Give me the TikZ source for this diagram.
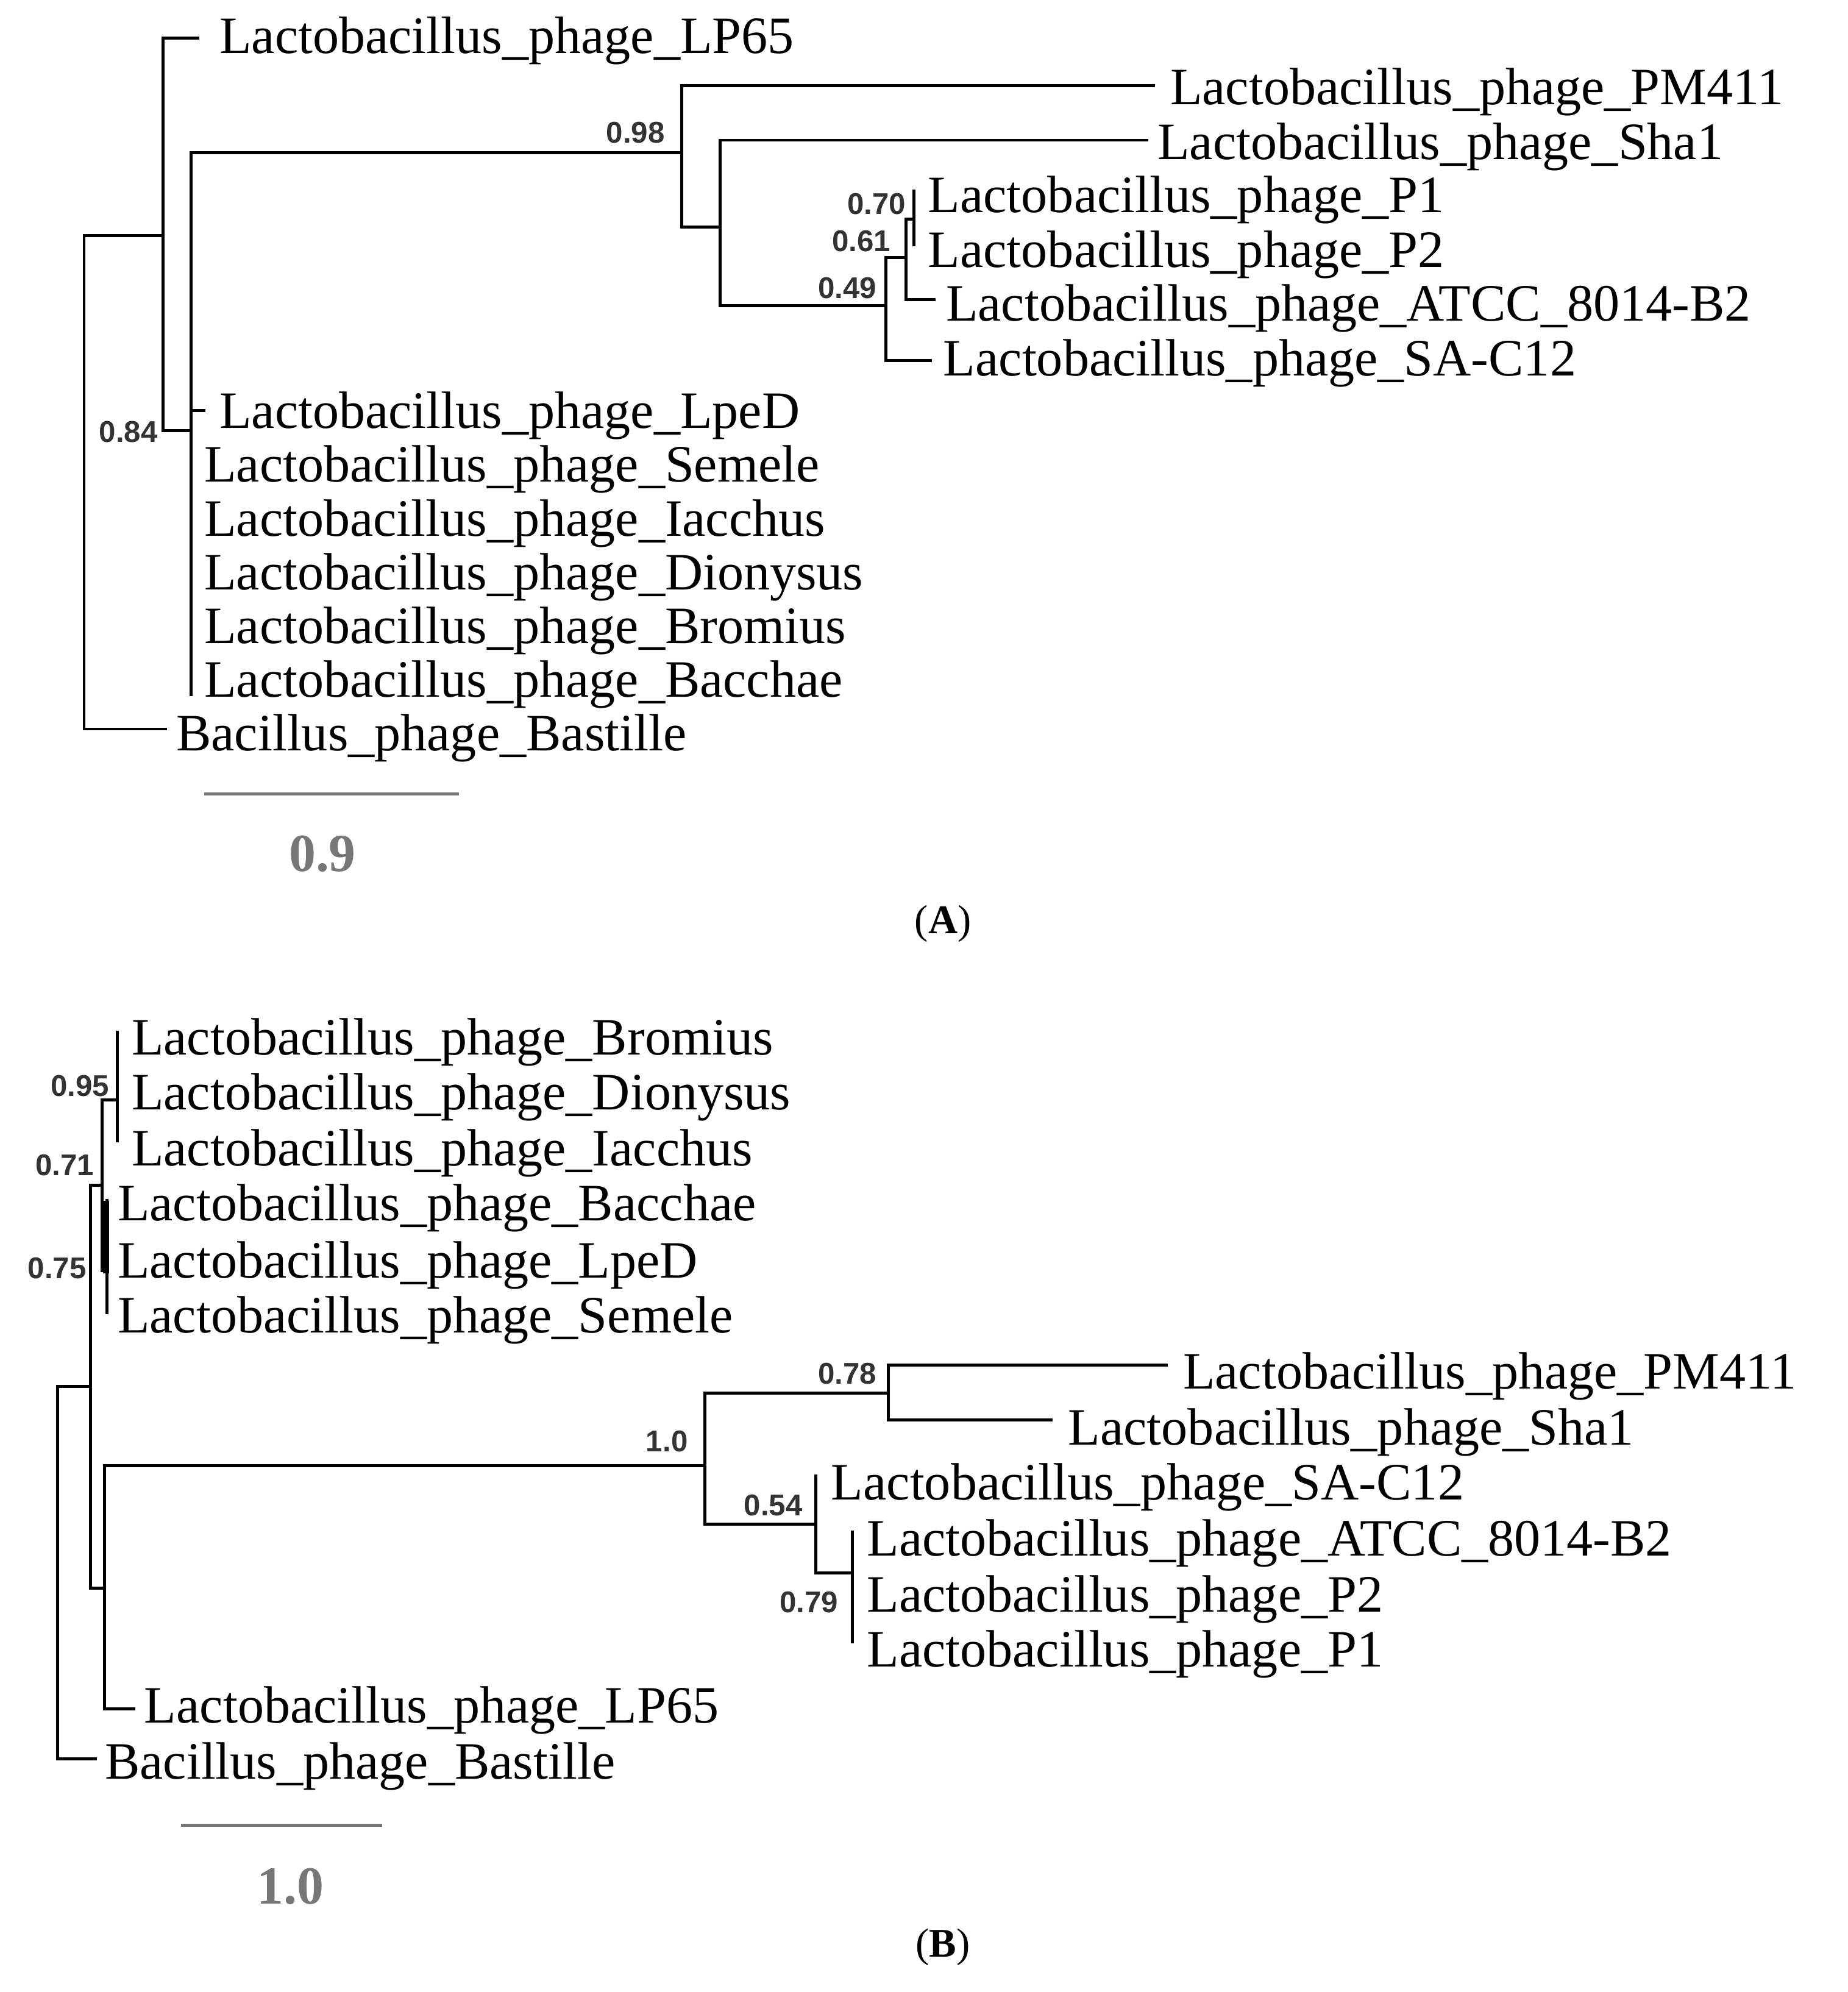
\documentclass[tikz,border=0pt]{standalone}
\usepackage{fontspec}
\setmainfont{Liberation Serif}
\newfontfamily\bsfam{Liberation Sans}
\definecolor{bsgray}{HTML}{333333}
\definecolor{scgray}{HTML}{777777}
\begin{document}
\begin{tikzpicture}[x=0.0209cm,y=-0.0209cm,
  br/.style={line width=1.4pt,line cap=rect},
  tx/.style={anchor=west,inner sep=0pt,font=\fontsize{24.5}{28}\selectfont},
  bs/.style={anchor=east,inner sep=0pt,text=bsgray,font=\bsfam\bfseries\fontsize{14}{16}\selectfont},
  sc/.style={line width=1.4pt,draw=scgray},
  sct/.style={text=scgray,font=\bfseries\fontsize{25}{28}\selectfont},
  pl/.style={font=\fontsize{19}{22}\selectfont}]
\useasboundingbox (0,0) rectangle (1450,1563);
% ---------- Tree A ----------
\coordinate (rA) at (66,378);
\coordinate (n1) at (128,185);
\coordinate (tLP65) at (155,30);
\coordinate (tBas) at (130,572);
\coordinate (n084) at (150,338);
\coordinate (tLpeD) at (160,322);
\coordinate (tBot) at (150,545);
\coordinate (n098) at (535,120);
\coordinate (tPM) at (905,67);
\coordinate (n2) at (565,178);
\coordinate (tSha) at (900,110);
\coordinate (n049) at (695,240);
\coordinate (tSA) at (730,283);
\coordinate (n061) at (711,202);
\coordinate (tATCC) at (733,235);
\coordinate (n070) at (717,172);
\coordinate (tP1) at (717,150);
\coordinate (tP2) at (717,192);
\draw[br] (rA) |- (n1); \draw[br] (rA) |- (tBas);
\draw[br] (n1) |- (tLP65); \draw[br] (n1) |- (n084);
\draw[br] (n084) |- (n098); \draw[br] (n084) |- (tLpeD); \draw[br] (n084) -- (tBot);
\draw[br] (n098) |- (tPM); \draw[br] (n098) |- (n2);
\draw[br] (n2) |- (tSha); \draw[br] (n2) |- (n049);
\draw[br] (n049) |- (tSA); \draw[br] (n049) |- (n061);
\draw[br] (n061) |- (tATCC); \draw[br] (n061) |- (n070);
\draw[br] (n070) -- (tP1); \draw[br] (n070) -- (tP2);
\node[tx] (lLP65) at (172,32) {Lactobacillus\_phage\_LP65};
\node[tx] (lPM) at (918,72) {Lactobacillus\_phage\_PM411};
\node[tx] (lSha) at (908,115) {Lactobacillus\_phage\_Sha1};
\node[tx] (lP1) at (728,157) {Lactobacillus\_phage\_P1};
\node[tx] (lP2) at (728,200) {Lactobacillus\_phage\_P2};
\node[tx] (lATCC) at (742,242) {Lactobacillus\_phage\_ATCC\_8014-B2};
\node[tx] (lSA) at (740,285) {Lactobacillus\_phage\_SA-C12};
\node[tx] (lLpeD) at (172,326) {Lactobacillus\_phage\_LpeD};
\node[tx] (lSem) at (160,368) {Lactobacillus\_phage\_Semele};
\node[tx] (lIac) at (160,411) {Lactobacillus\_phage\_Iacchus};
\node[tx] (lDio) at (160,453) {Lactobacillus\_phage\_Dionysus};
\node[tx] (lBro) at (160,495) {Lactobacillus\_phage\_Bromius};
\node[tx] (lBac) at (160,537) {Lactobacillus\_phage\_Bacchae};
\node[tx] (lBas) at (138,579) {Bacillus\_phage\_Bastille};
\node[bs] (b098) at (522,104) {0.98};
\node[bs] (b070) at (711,160) {0.70};
\node[bs] (b061) at (699,189) {0.61};
\node[bs] (b049) at (688,226) {0.49};
\node[bs] (b084) at (124,339) {0.84};
\coordinate (sA1) at (160,623); \coordinate (sA2) at (360,623);
\draw[sc] (sA1) -- (sA2);
\node[sct] (sAt) at (253,670) {0.9};
\node[pl] (pA) at (740,725) {(\textbf{A})};
% ---------- Tree B ----------
\coordinate (rB) at (45,1234);
\coordinate (tBasB) at (75,1380);
\coordinate (na) at (71,1088);
\coordinate (nb) at (80,930);
\coordinate (nd) at (82,1246);
\coordinate (nc) at (92,863);
\coordinate (tc1) at (92,810);
\coordinate (tc2) at (92,895);
\coordinate (ne) at (84,997);
\coordinate (te1) at (84,942);
\coordinate (te2) at (84,1030);
\coordinate (n10) at (553,1150);
\coordinate (tLP65B) at (105,1341);
\coordinate (n078) at (697,1093);
\coordinate (tPMB) at (915,1071);
\coordinate (tShaB) at (825,1114);
\coordinate (n054) at (640,1196);
\coordinate (tSAB) at (640,1158);
\coordinate (n079) at (669,1234);
\coordinate (t79a) at (669,1202);
\coordinate (t79b) at (669,1288);
\draw[br] (rB) |- (na); \draw[br] (rB) |- (tBasB);
\draw[br] (na) |- (nb); \draw[br] (na) |- (nd);
\draw[br] (nb) |- (nc); \draw[br] (nb) |- (ne);
\draw[br] (nc) -- (tc1); \draw[br] (nc) -- (tc2);
\draw[br] (ne) -- (te1); \draw[br] (ne) -- (te2);
\fill (81,942) rectangle (85.5,999);
\draw[br] (nd) |- (n10); \draw[br] (nd) |- (tLP65B);
\draw[br] (n10) |- (n078); \draw[br] (n10) |- (n054);
\draw[br] (n078) |- (tPMB); \draw[br] (n078) |- (tShaB);
\draw[br] (n054) -- (tSAB); \draw[br] (n054) |- (n079);
\draw[br] (n079) -- (t79a); \draw[br] (n079) -- (t79b);
\node[tx] (mBro) at (103,818) {Lactobacillus\_phage\_Bromius};
\node[tx] (mDio) at (103,861) {Lactobacillus\_phage\_Dionysus};
\node[tx] (mIac) at (103,905) {Lactobacillus\_phage\_Iacchus};
\node[tx] (mBac) at (92,948) {Lactobacillus\_phage\_Bacchae};
\node[tx] (mLpeD) at (92,993) {Lactobacillus\_phage\_LpeD};
\node[tx] (mSem) at (92,1036) {Lactobacillus\_phage\_Semele};
\node[tx] (mPM) at (928,1080) {Lactobacillus\_phage\_PM411};
\node[tx] (mSha) at (838,1124) {Lactobacillus\_phage\_Sha1};
\node[tx] (mSA) at (652,1167) {Lactobacillus\_phage\_SA-C12};
\node[tx] (mATCC) at (680,1211) {Lactobacillus\_phage\_ATCC\_8014-B2};
\node[tx] (mP2) at (680,1255) {Lactobacillus\_phage\_P2};
\node[tx] (mP1) at (680,1298) {Lactobacillus\_phage\_P1};
\node[tx] (mLP65) at (113,1342) {Lactobacillus\_phage\_LP65};
\node[tx] (mBas) at (82,1386) {Bacillus\_phage\_Bastille};
\node[bs] (c095) at (86,852) {0.95};
\node[bs] (c071) at (74,914) {0.71};
\node[bs] (c075) at (68,995) {0.75};
\node[bs] (c10) at (540,1131) {1.0};
\node[bs] (c078) at (688,1078) {0.78};
\node[bs] (c054) at (630,1181) {0.54};
\node[bs] (c079) at (658,1257) {0.79};
\coordinate (sB1) at (142,1432); \coordinate (sB2) at (300,1432);
\draw[sc] (sB1) -- (sB2);
\node[sct] (sBt) at (228,1480) {1.0};
\node[pl] (pB) at (740,1528) {(\textbf{B})};
\end{tikzpicture}
\end{document}
